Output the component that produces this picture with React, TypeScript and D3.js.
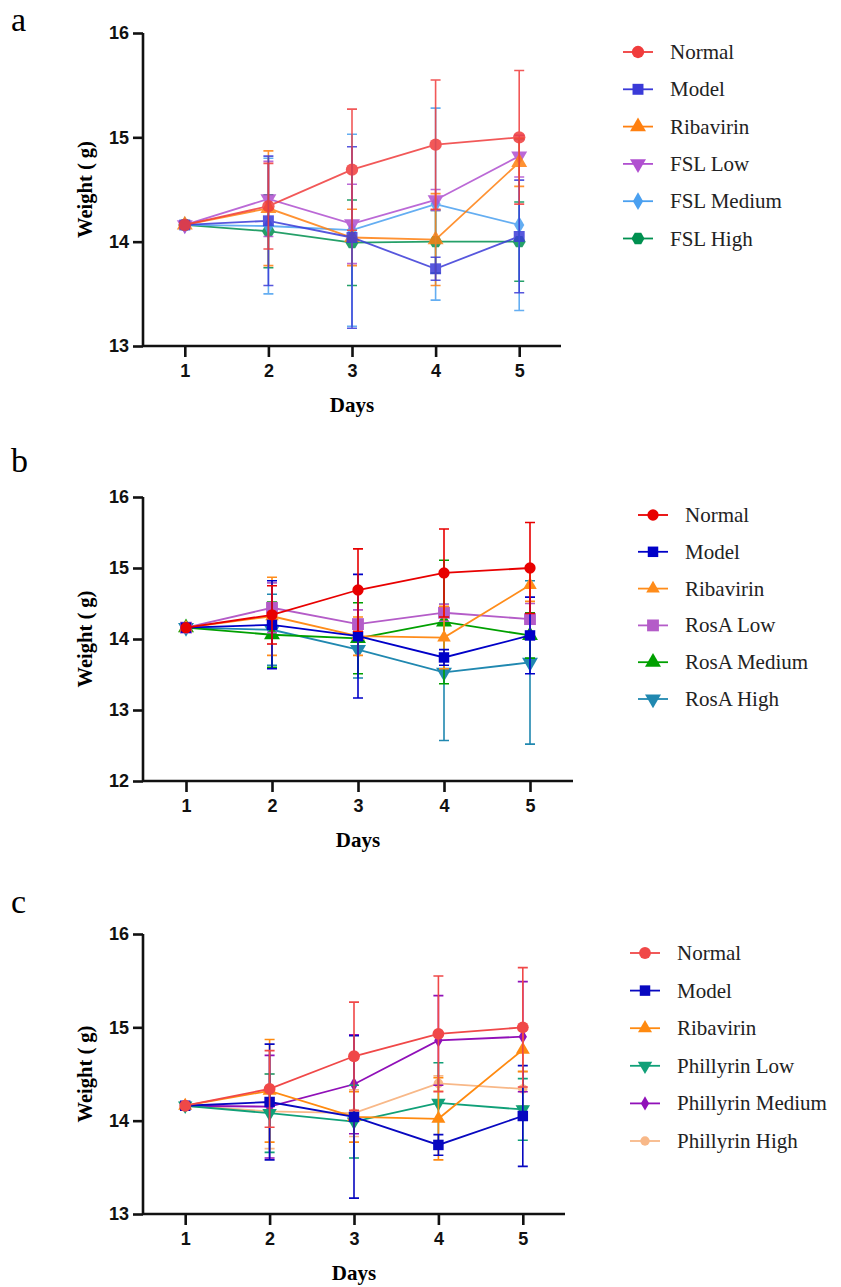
import React, { useEffect, useRef } from "react";
import * as d3 from "d3";

const days = [1, 2, 3, 4, 5];

// shared groups
const normalMean = [14.16, 14.34, 14.69, 14.93, 15.0];
const normalSD = [0, 0.41, 0.58, 0.62, 0.64];
const modelMean = [14.16, 14.2, 14.04, 13.74, 14.05];
const modelSD = [0, 0.62, 0.87, 0.11, 0.54];
const ribaMean = [14.16, 14.32, 14.04, 14.02, 14.76];
const ribaSD = [0, 0.55, 0.27, 0.44, 0.23];

// panel a
const fslLowMean = [14.16, 14.41, 14.17, 14.4, 14.82];
const fslLowSD = [0, 0.36, 0.38, 0.1, 0.2];
const fslMedMean = [14.16, 14.15, 14.11, 14.36, 14.16];
const fslMedSD = [0, 0.65, 0.92, 0.92, 0.82];
const fslHighMean = [14.16, 14.1, 13.99, 14.0, 14.0];
const fslHighSD = [0, 0.35, 0.41, 0.3, 0.38];

// panel b
const rosLowMean = [14.16, 14.44, 14.21, 14.37, 14.28];
const rosLowSD = [0, 0.35, 0.2, 0.12, 0.22];
const rosMedMean = [14.16, 14.06, 14.01, 14.24, 14.05];
const rosMedSD = [0, 0.46, 0.5, 0.87, 0.32];
const rosHighMean = [14.16, 14.13, 13.85, 13.53, 13.67];
const rosHighSD = [0, 0.5, 0.4, 0.96, 1.15];

// panel c
const phLowMean = [14.16, 14.08, 13.99, 14.19, 14.12];
const phLowSD = [0, 0.42, 0.39, 0.43, 0.33];
const phMedMean = [14.16, 14.15, 14.39, 14.86, 14.9];
const phMedSD = [0, 0.55, 0.53, 0.48, 0.59];
const phHighMean = [14.16, 14.1, 14.08, 14.4, 14.34];
const phHighSD = [0, 0.4, 0.25, 0.08, 0.18];

const yTicksA = [13, 14, 15, 16];
const yTicksB = [12, 13, 14, 15, 16];
const yTicksC = [13, 14, 15, 16];

const namesA = ["Normal", "Model", "Ribavirin", "FSL Low", "FSL Medium", "FSL High"];
const namesB = ["Normal", "Model", "Ribavirin", "RosA Low", "RosA Medium", "RosA High"];
const namesC = ["Normal", "Model", "Ribavirin", "Phillyrin Low", "Phillyrin Medium", "Phillyrin High"];

const SERIF = "'Liberation Serif', 'Times New Roman', serif";
const SANS = "'Liberation Sans', Arial, sans-serif";

const hexagon = {
  draw(ctx, size) {
    const r = Math.sqrt(size / 2.598);
    for (let i = 0; i < 6; i++) {
      const a = (i * Math.PI) / 3;
      const px = r * Math.cos(a);
      const py = r * Math.sin(a);
      if (i === 0) ctx.moveTo(px, py);
      else ctx.lineTo(px, py);
    }
    ctx.closePath();
  },
};

const shapeType = (shape) => {
  if (shape === "circle") return d3.symbolCircle;
  if (shape === "square") return d3.symbolSquare;
  if (shape === "diamond") return d3.symbolDiamond;
  if (shape === "hexagon") return hexagon;
  return d3.symbolTriangle;
};

const panels = [
  {
    letter: "a",
    letterY: 31,
    top: 33,
    bottom: 346,
    right: 561,
    yDomain: [13, 16],
    yTicks: yTicksA,
    opacity: 0.85,
    legendX: 623,
    legendY: 52,
    legendStep: 37.3,
    series: [
      { name: namesA[0], mean: normalMean, sd: normalSD, color: "#f03c3c", shape: "circle", size: 120 },
      { name: namesA[1], mean: modelMean, sd: modelSD, color: "#3a3ad8", shape: "square", size: 120 },
      { name: namesA[2], mean: ribaMean, sd: ribaSD, color: "#ff8010", shape: "triangle", size: 110 },
      { name: namesA[3], mean: fslLowMean, sd: fslLowSD, color: "#b050d0", shape: "down", size: 110 },
      { name: namesA[4], mean: fslMedMean, sd: fslMedSD, color: "#4aa0f0", shape: "diamond", size: 90 },
      { name: namesA[5], mean: fslHighMean, sd: fslHighSD, color: "#009050", shape: "hexagon", size: 110 },
    ],
  },
  {
    letter: "b",
    letterY: 472,
    top: 497,
    bottom: 781,
    right: 573,
    yDomain: [12, 16],
    yTicks: yTicksB,
    opacity: 1,
    legendX: 638,
    legendY: 515,
    legendStep: 36.8,
    series: [
      { name: namesB[0], mean: normalMean, sd: normalSD, color: "#e80000", shape: "circle", size: 100 },
      { name: namesB[1], mean: modelMean, sd: modelSD, color: "#0000c8", shape: "square", size: 110 },
      { name: namesB[2], mean: ribaMean, sd: ribaSD, color: "#ff8c1a", shape: "triangle", size: 80 },
      { name: namesB[3], mean: rosLowMean, sd: rosLowSD, color: "#b45cc8", shape: "square", size: 140 },
      { name: namesB[4], mean: rosMedMean, sd: rosMedSD, color: "#00a000", shape: "triangle", size: 110 },
      { name: namesB[5], mean: rosHighMean, sd: rosHighSD, color: "#2088b0", shape: "down", size: 110 },
    ],
  },
  {
    letter: "c",
    letterY: 913,
    top: 934,
    bottom: 1214,
    right: 565,
    yDomain: [13, 16],
    yTicks: yTicksC,
    opacity: 1,
    legendX: 630,
    legendY: 953,
    legendStep: 37.6,
    series: [
      { name: namesC[0], mean: normalMean, sd: normalSD, color: "#f04848", shape: "circle", size: 110 },
      { name: namesC[1], mean: modelMean, sd: modelSD, color: "#0808c0", shape: "square", size: 110 },
      { name: namesC[2], mean: ribaMean, sd: ribaSD, color: "#ff8a10", shape: "triangle", size: 85 },
      { name: namesC[3], mean: phLowMean, sd: phLowSD, color: "#10a078", shape: "down", size: 90 },
      { name: namesC[4], mean: phMedMean, sd: phMedSD, color: "#9010b8", shape: "diamond", size: 60 },
      { name: namesC[5], mean: phHighMean, sd: phHighSD, color: "#f8b888", shape: "circle", size: 70 },
    ],
  },
];

const App = () => {
  const ref = useRef(null);

  useEffect(() => {
    const svg = d3.select(ref.current);
    svg.selectAll("*").remove();

    const left = 143;

    panels.forEach((p) => {
      const x = d3.scaleLinear().domain([0.5, 5.5]).range([left, p.right]);
      const y = d3.scaleLinear().domain(p.yDomain).range([p.bottom, p.top]);
      const g = svg.append("g");

      g.append("text")
        .attr("x", 11)
        .attr("y", p.letterY)
        .style("font-family", SERIF)
        .style("font-size", "34px")
        .text(p.letter);

      // axes
      const yAxis = g
        .append("g")
        .attr("transform", `translate(${left},0)`)
        .call(d3.axisLeft(y).tickValues(p.yTicks).tickSize(10).tickPadding(4).tickFormat(d3.format("d")));
      const xAxis = g
        .append("g")
        .attr("transform", `translate(0,${p.bottom})`)
        .call(d3.axisBottom(x).tickValues(days).tickSize(11).tickPadding(7).tickFormat(d3.format("d")));

      [yAxis, xAxis].forEach((ax) => {
        ax.select(".domain").attr("stroke", "#111").attr("stroke-width", 2.6);
        ax.selectAll(".tick line").attr("stroke", "#111").attr("stroke-width", 2.6);
        ax.selectAll(".tick text")
          .attr("fill", "#111")
          .style("font-family", SANS)
          .style("font-weight", "bold")
          .style("font-size", "18px");
      });
      yAxis.select(".domain").attr("d", `M0,${p.bottom}V${p.top}`);
      yAxis.selectAll(".tick line").attr("x2", -10);
      xAxis.select(".domain").attr("d", `M${left},0H${p.right}`);

      g.append("text")
        .attr("transform", `translate(92,${(p.top + p.bottom) / 2}) rotate(-90)`)
        .style("text-anchor", "middle")
        .style("font-family", SERIF)
        .style("font-weight", "bold")
        .style("font-size", "20.5px")
        .text("Weight ( g)");

      g.append("text")
        .attr("x", x(3))
        .attr("y", p.bottom + 66)
        .style("text-anchor", "middle")
        .style("font-family", SERIF)
        .style("font-weight", "bold")
        .style("font-size", "21px")
        .text("Days");

      const line = d3
        .line()
        .x((d, i) => x(days[i]))
        .y((d) => y(d));

      // draw last series first so Normal ends up on top
      p.series
        .slice()
        .reverse()
        .forEach((s) => {
          const sg = g.append("g").attr("opacity", p.opacity);
          const bars = days.map((d, i) => ({ d, m: s.mean[i], e: s.sd[i] })).filter((b) => b.e > 0);

          sg.selectAll(".bar")
            .data(bars)
            .join("path")
            .attr("d", (b) => {
              const cx = x(b.d);
              const y1 = y(b.m + b.e);
              const y0 = y(b.m - b.e);
              return `M${cx},${y1}V${y0}M${cx - 5},${y1}H${cx + 5}M${cx - 5},${y0}H${cx + 5}`;
            })
            .attr("fill", "none")
            .attr("stroke", s.color)
            .attr("stroke-width", 1.6);

          sg.append("path")
            .attr("d", line(s.mean))
            .attr("fill", "none")
            .attr("stroke", s.color)
            .attr("stroke-width", 1.8);

          const sym = d3.symbol().type(shapeType(s.shape)).size(s.size);
          sg.selectAll(".pt")
            .data(s.mean)
            .join("path")
            .attr("d", sym)
            .attr(
              "transform",
              (d, i) => `translate(${x(days[i])},${y(d)})${s.shape === "down" ? " rotate(180)" : ""}`
            )
            .attr("fill", s.color);
        });

      // legend
      p.series.forEach((s, i) => {
        const ly = p.legendY + i * p.legendStep;
        const lg = g.append("g").attr("transform", `translate(${p.legendX},${ly})`);
        lg.append("line")
          .attr("x1", 0)
          .attr("x2", 30)
          .attr("stroke", s.color)
          .attr("stroke-width", 1.8);
        lg.append("path")
          .attr("d", d3.symbol().type(shapeType(s.shape)).size(s.size)())
          .attr("transform", `translate(15,0)${s.shape === "down" ? " rotate(180)" : ""}`)
          .attr("fill", s.color);
        lg.append("text")
          .attr("x", 47)
          .attr("y", 7)
          .style("font-family", SERIF)
          .style("font-size", "21px")
          .attr("fill", "#222")
          .text(s.name);
      });
    });
  }, []);

  return (
    <div style={{ position: "absolute", left: 0, top: 0 }}>
      <svg ref={ref} width={841} height={1287} style={{ display: "block", background: "#fff" }} />
    </div>
  );
};

export default App;
